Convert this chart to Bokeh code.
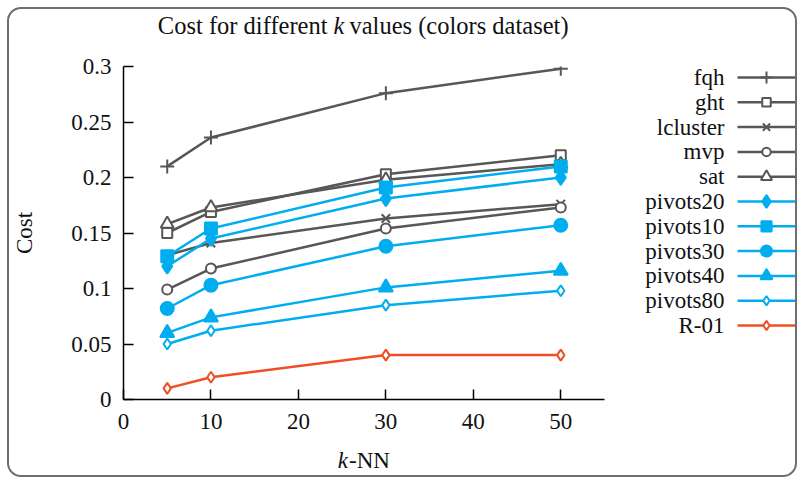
from bokeh.plotting import figure
from bokeh.models import Range1d, FixedTicker, NumeralTickFormatter
from bokeh.core.properties import value
from bokeh.layouts import row, column
from bokeh.embed import file_html
from bokeh.resources import INLINE

# ---------------- data ----------------
k_values = [5, 10, 30, 50]
fqh = [0.210, 0.236, 0.276, 0.298]
ght = [0.150, 0.169, 0.203, 0.220]
lcluster = [0.130, 0.141, 0.163, 0.176]
mvp = [0.099, 0.118, 0.154, 0.173]
sat = [0.158, 0.173, 0.198, 0.212]
pivots20 = [0.120, 0.145, 0.181, 0.200]
pivots10 = [0.129, 0.154, 0.191, 0.210]
pivots30 = [0.082, 0.103, 0.138, 0.157]
pivots40 = [0.060, 0.074, 0.101, 0.116]
pivots80 = [0.050, 0.062, 0.085, 0.098]
r01 = [0.010, 0.020, 0.040, 0.040]

series_names = ["fqh", "ght", "lcluster", "mvp", "sat", "pivots20",
                "pivots10", "pivots30", "pivots40", "pivots80", "R-01"]
series_values = [fqh, ght, lcluster, mvp, sat, pivots20,
                 pivots10, pivots30, pivots40, pivots80, r01]

x_ticks = [0, 10, 20, 30, 40, 50]
y_ticks = [0, 0.05, 0.1, 0.15, 0.2, 0.25, 0.3]

title_parts = ["Cost for different", "k", "values (colors dataset)"]
xlabel_parts = ["k", "-NN"]
ylabel = "Cost"

# ---------------- styles ----------------
GRAY = "#575757"
BLUE = "#00AEEF"
RED = "#F04E23"
TXT = "#111111"
FONT = "Liberation Serif"
FS = "23px"
FS_TITLE = "24.5px"

styles = [
    (GRAY, "cross", False, 14),
    (GRAY, "square", False, 10),
    (GRAY, "x", False, 12),
    (GRAY, "circle", False, 10),
    (GRAY, "triangle", False, 13),
    (BLUE, "diamond", True, 15),
    (BLUE, "square", True, 12),
    (BLUE, "circle", True, 13),
    (BLUE, "triangle", True, 14),
    (BLUE, "diamond", False, 11),
    (RED, "diamond", False, 11),
]

W_MAIN = 612
MB_L, MB_R = 113, 17
FRAME_W = W_MAIN - MB_L - MB_R
MB_T, FRAME_H, MB_B = 12, 333, 41
H_MAIN = MB_T + FRAME_H + MB_B
H_HEAD, H_FOOT = 45, 35
W_LEG = 174


def blank(width, height, x_range, y_range, **kw):
    f = figure(width=width, height=height, output_backend="svg",
               toolbar_location=None, title=None,
               x_range=x_range, y_range=y_range, **kw)
    f.axis.visible = False
    f.grid.grid_line_color = None
    f.outline_line_color = None
    f.background_fill_color = None
    f.border_fill_color = None
    return f


# ---------------- main plot ----------------
p = figure(width=W_MAIN, height=H_MAIN, output_backend="svg", toolbar_location=None,
           title=None, x_range=Range1d(0, 55), y_range=Range1d(0, 0.3),
           min_border_left=MB_L, min_border_right=MB_R,
           min_border_top=MB_T, min_border_bottom=MB_B)
p.outline_line_color = None
p.grid.grid_line_color = None
p.background_fill_color = None
p.border_fill_color = None

for ax in (p.xaxis[0], p.yaxis[0]):
    ax.axis_line_color = "black"
    ax.axis_line_width = 1.5
    ax.major_tick_line_color = "black"
    ax.major_tick_line_width = 1.5
    ax.major_tick_in = 10
    ax.major_tick_out = 0
    ax.minor_tick_line_color = None
    ax.major_label_text_font = FONT
    ax.major_label_text_font_size = FS
    ax.major_label_text_color = TXT
    ax.axis_label_text_font = FONT
    ax.axis_label_text_font_size = FS
    ax.axis_label_text_font_style = "normal"
    ax.axis_label_text_color = TXT

p.xaxis.ticker = FixedTicker(ticks=x_ticks)
p.yaxis.ticker = FixedTicker(ticks=y_ticks)
p.yaxis.formatter = NumeralTickFormatter(format="0.[00]")
p.xaxis.major_label_standoff = 14
p.yaxis.major_label_standoff = 12
p.yaxis.axis_label = ylabel
p.yaxis.axis_label_standoff = 31

for vals, (col, marker, filled, size) in zip(series_values, styles):
    p.line(k_values, vals, line_color=col, line_width=2.5)
    p.scatter(k_values, vals, marker=marker, size=size, line_color=col,
              line_width=2, fill_color=col if filled else "white")

# ---------------- header (title with italic k) ----------------
head = blank(W_MAIN, H_HEAD, Range1d(0, FRAME_W), Range1d(H_HEAD, 0),
             min_border_left=MB_L, min_border_right=MB_R,
             min_border_top=0, min_border_bottom=0)
t_base = 16
head.text([205], [t_base], text=[title_parts[0]], text_font=value(FONT),
          text_font_size=FS_TITLE, text_align="right", text_baseline="alphabetic",
          text_color=TXT)
head.text([211], [t_base], text=[title_parts[1]], text_font=value(FONT),
          text_font_size=FS_TITLE, text_font_style="italic", text_align="left",
          text_baseline="alphabetic", text_color=TXT)
head.text([227], [t_base], text=[title_parts[2]], text_font=value(FONT),
          text_font_size=FS_TITLE, text_align="left", text_baseline="alphabetic",
          text_color=TXT)

# ---------------- footer (x label with italic k) ----------------
foot = blank(W_MAIN, H_FOOT, Range1d(0, FRAME_W), Range1d(H_FOOT, 0),
             min_border_left=MB_L, min_border_right=MB_R,
             min_border_top=0, min_border_bottom=0)
f_base = 19.5
foot.text([225.5], [f_base], text=[xlabel_parts[0]], text_font=value(FONT),
          text_font_size=FS, text_font_style="italic", text_align="right",
          text_baseline="alphabetic", text_color=TXT)
foot.text([226.5], [f_base], text=[xlabel_parts[1]], text_font=value(FONT),
          text_font_size=FS, text_align="left", text_baseline="alphabetic",
          text_color=TXT)

# ---------------- legend ----------------
row_h = 24.8
top_off = 11  # offset of first entry below the plot frame top
leg = blank(W_LEG, H_MAIN, Range1d(0, W_LEG),
            Range1d((FRAME_H - top_off) / row_h, -top_off / row_h),
            min_border_left=0, min_border_right=0,
            min_border_top=MB_T, min_border_bottom=MB_B)

for i, (name, (col, marker, filled, size)) in enumerate(zip(series_names, styles)):
    leg.segment(x0=[116], y0=[i], x1=[174], y1=[i], line_color=col, line_width=2.5)
    leg.scatter([145], [i], marker=marker, size=size * 0.85, line_color=col,
                line_width=2, fill_color=col if filled else "white")
    leg.text([103], [i], text=[name], text_font=value(FONT),
             text_font_size=FS, text_align="right", text_baseline="middle",
             text_color=TXT)

layout = column(head, row(p, leg), foot,
                styles={"border": "2px solid #6e6e6e", "border-radius": "14px",
                        "background-color": "white", "margin": "7px 0 0 7px"})

open("out.html", "w").write(file_html(layout, INLINE))
